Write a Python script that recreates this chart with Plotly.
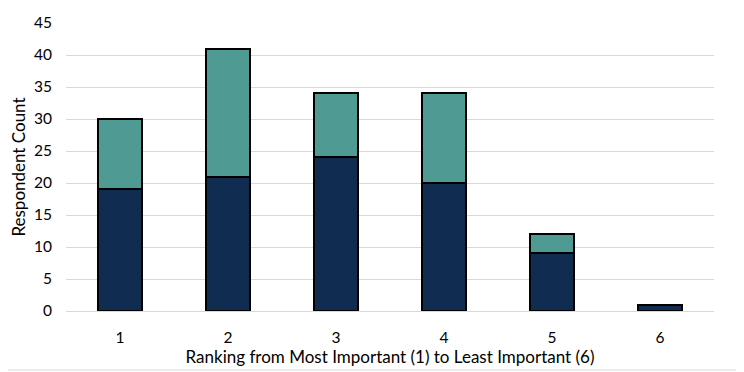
import plotly.graph_objects as go

categories = ["1", "2", "3", "4", "5", "6"]
bottom_vals = [19, 21, 24, 20, 9, 1]
top_vals = [11, 20, 10, 14, 3, 0]
y_ticks = [0, 5, 10, 15, 20, 25, 30, 35, 40, 45]

font_family = "Lato, Open Sans, Liberation Sans, sans-serif"

fig = go.Figure()
fig.add_trace(go.Bar(x=categories, y=bottom_vals, marker=dict(color="#112c51", line=dict(color="#000000", width=2)), width=0.41, showlegend=False))
fig.add_trace(go.Bar(x=categories, y=top_vals, marker=dict(color="#4f9a92", line=dict(color="#000000", width=2)), width=0.41, showlegend=False))

fig.update_layout(
    barmode="stack",
    width=744, height=372,
    margin=dict(l=58, r=38, t=15, b=69, autoexpand=False),
    paper_bgcolor="white", plot_bgcolor="white",
    font=dict(family=font_family, size=15, color="#000000"),
    xaxis=dict(
        title=dict(text="Ranking from Most Important (1) to Least Important (6)", font=dict(size=17), standoff=5),
        showgrid=False, showline=True, linecolor="#d9d9d9", linewidth=1,
        tickfont=dict(size=15.5), ticks="", ticklen=0, ticklabelstandoff=12,
        automargin=False,
    ),
    yaxis=dict(
        title=dict(text="Respondent Count", font=dict(size=17), standoff=8),
        range=[0, 45], tickvals=y_ticks, showgrid=True, gridcolor="#d9d9d9", gridwidth=1,
        zeroline=False, tickfont=dict(size=15.5), ticks="", ticklabelstandoff=13,
        automargin=False,
    ),
)
fig.add_shape(type="line", xref="paper", yref="paper", x0=-0.3, x1=1.1, y0=-0.205, y1=-0.205, line=dict(color="#d9d9d9", width=1))
fig.write_html("out.html")
